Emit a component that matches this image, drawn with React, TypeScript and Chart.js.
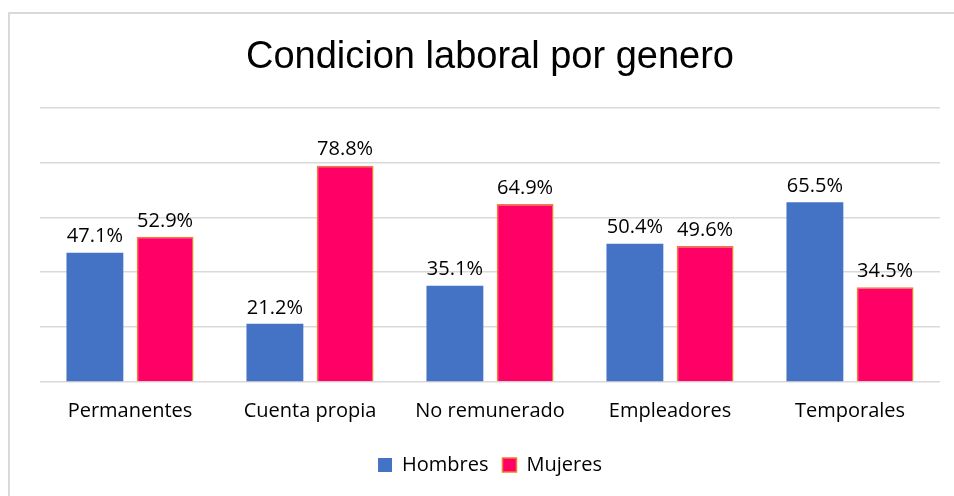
import React, { useEffect, useRef } from "react";
import { Chart, registerables } from "chart.js";

Chart.register(...registerables);

const categories = ["Permanentes", "Cuenta propia", "No remunerado", "Empleadores", "Temporales"];
const hombres = [47.1, 21.2, 35.1, 50.4, 65.5];
const mujeres = [52.9, 78.8, 64.9, 49.6, 34.5];
const seriesNames = ["Hombres", "Mujeres"];
const chartTitle = "Condicion laboral por genero";

const LABEL_FONT = "'Open Sans', 'Noto Sans', sans-serif";

const dataLabels = {
  id: "dataLabels",
  afterDatasetsDraw(chart: any) {
    const ctx = chart.ctx;
    ctx.save();
    ctx.font = `20px ${LABEL_FONT}`;
    ctx.fillStyle = "#000000";
    ctx.textAlign = "center";
    ctx.textBaseline = "bottom";
    chart.data.datasets.forEach((ds: any, i: number) => {
      const meta = chart.getDatasetMeta(i);
      meta.data.forEach((bar: any, j: number) => {
        ctx.fillText(ds.data[j].toFixed(1) + "%", bar.x, bar.y - 6);
      });
    });
    ctx.restore();
  },
};

export default function App() {
  const ref = useRef<HTMLCanvasElement | null>(null);
  useEffect(() => {
    if (!ref.current) return;
    const chart = new Chart(ref.current, {
      type: "bar",
      data: {
        labels: categories,
        datasets: [
          {
            label: seriesNames[0],
            data: hombres,
            backgroundColor: "#4472C4",
            borderColor: "#4472C4",
            borderWidth: 0,
          },
          {
            label: seriesNames[1],
            data: mujeres,
            backgroundColor: "#FF0066",
            borderColor: "#ED7D31",
            borderWidth: 1.5,
          },
        ],
      },
      options: {
        animation: false,
        responsive: false,
        maintainAspectRatio: false,
        layout: { padding: { left: 40, right: 14, top: 20, bottom: 11 } },
        datasets: {
          bar: { categoryPercentage: 0.78, barPercentage: 0.81 },
        },
        scales: {
          x: {
            grid: { display: false },
            border: { display: false },
            ticks: {
              color: "#000000",
              font: { family: LABEL_FONT, size: 20 },
              padding: 9,
            },
            afterFit(scale: any) {
              scale.height = 59;
            },
          },
          y: {
            min: 0,
            max: 100,
            ticks: { display: false, stepSize: 20 },
            grid: { color: "#d9d9d9", lineWidth: 1.5, drawTicks: false },
            border: { display: false },
          },
        },
        plugins: {
          title: {
            display: true,
            text: chartTitle,
            color: "#000000",
            font: { family: "'Liberation Sans', Arial, sans-serif", size: 38, weight: "normal" },
            padding: { top: 15, bottom: 27 },
          },
          legend: {
            position: "bottom",
            labels: {
              color: "#000000",
              font: { family: LABEL_FONT, size: 20 },
              boxWidth: 14,
              boxHeight: 14,
              padding: 14,
            },
          },
          tooltip: { enabled: false },
        },
      },
      plugins: [dataLabels],
    });
    return () => chart.destroy();
  }, []);
  return (
    <div style={{ position: "fixed", left: 0, top: 0, width: 954, height: 496, background: "#ffffff", overflow: "hidden" }}>
      <div
        style={{
          position: "absolute",
          left: 8,
          top: 12,
          width: 960,
          height: 500,
          borderLeft: "2px solid #d9d9d9",
          borderTop: "2px solid #d9d9d9",
        }}
      />
      <canvas ref={ref} width={954} height={496} style={{ position: "absolute", left: 0, top: 0, width: 954, height: 496 }} />
    </div>
  );
}
